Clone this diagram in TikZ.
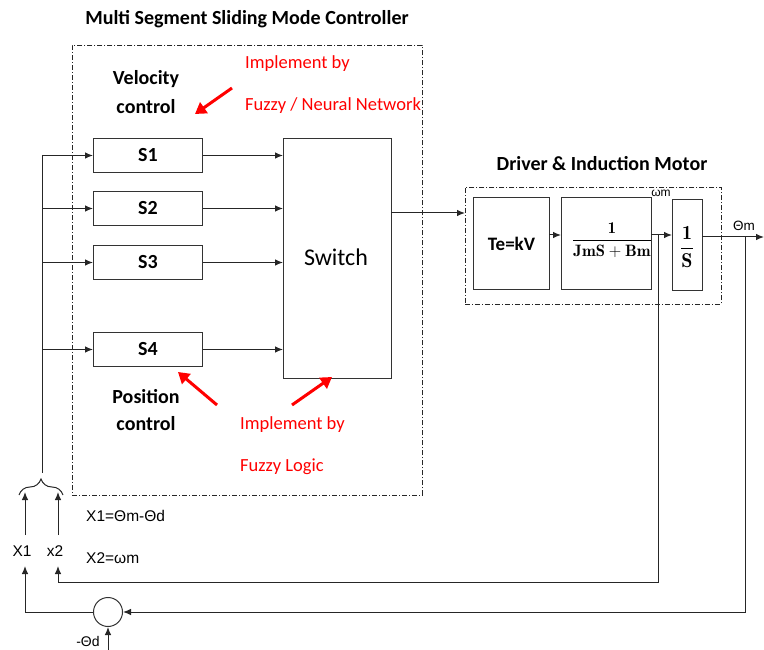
\documentclass[tikz,border=0pt]{standalone}
\usepackage{fontspec}
\newfontfamily\calf{Carlito}
\newfontfamily\lsans{Liberation Sans}
\usetikzlibrary{arrows.meta,decorations.pathreplacing}
\begin{document}
\begin{tikzpicture}[x=1pt,y=-1pt,
  ln/.style={draw=black!85,line width=1pt},
  arr/.style={ln,-{Latex[length=8pt,width=6.5pt]}},
  blk/.style={draw=black!80,line width=1pt,inner sep=0pt,anchor=north west},
  dd/.style={draw=black!85,line width=0.9pt,dash pattern=on 5pt off 2pt on 1pt off 2pt,inner sep=0pt,anchor=north west},
  redarr/.style={draw=red,line width=3pt,-{Triangle[length=11pt,width=13pt]}},
  redtxt/.style={text=red,font=\calf\fontsize{18.5}{20}\selectfont,anchor=west,inner sep=0pt},
  bold/.style={font=\calf\bfseries\fontsize{20}{22}\selectfont},
  sbox/.style={blk,minimum width=109pt,minimum height=34pt,font=\calf\bfseries\fontsize{20}{22}\selectfont},
  small/.style={font=\lsans\fontsize{15.5}{17}\selectfont,inner sep=0pt}]
\useasboundingbox (0,0) rectangle (764,650);

% containers
\node[dd,minimum width=350pt,minimum height=450pt] (ctrl) at (72,45) {};
\node[dd,minimum width=256pt,minimum height=117pt] (motor) at (465,187) {};

% titles
\node[bold] (t1) at (247,19) {Multi Segment Sliding Mode Controller};
\node[bold] (t2) at (602,164) {Driver \& Induction Motor};

% sliding surfaces
\node[sbox] (s1) at (93,138) {S1};
\node[sbox] (s2) at (93,191) {S2};
\node[sbox] (s3) at (93,245) {S3};
\node[sbox] (s4) at (93,332) {S4};
\node[blk,minimum width=108pt,minimum height=240pt] (sw) at (283,138) {};
\node[font=\calf\fontsize{24}{26}\selectfont] (swt) at (336,257) {Switch};

% labels in controller
\node[align=center,font=\calf\bfseries\fontsize{20}{29}\selectfont] (vel) at (146,92) {Velocity\\control};
\node[align=center,font=\calf\bfseries\fontsize{20}{27}\selectfont] (pos) at (146,410) {Position\\control};
\node[redtxt] (r1) at (245,64) {Implement by};
\node[redtxt] (r2) at (245,106) {Fuzzy / Neural Network};
\node[redtxt] (r3) at (240,425) {Implement by};
\node[redtxt] (r4) at (240,467) {Fuzzy Logic};
\coordinate (ra1s) at (232,88); \coordinate (ra1e) at (195,114);
\coordinate (ra2s) at (217,405); \coordinate (ra2e) at (178,372);
\coordinate (ra3s) at (292,405); \coordinate (ra3e) at (332,377);
\draw[redarr] (ra1s) -- (ra1e);
\draw[redarr] (ra2s) -- (ra2e);
\draw[redarr] (ra3s) -- (ra3e);

% bus
\coordinate (bt) at (42,155);
\coordinate (bb) at (42,473);
\draw[ln] (bt) -- (bb);
\foreach \s in {s1,s2,s3,s4} {
  \draw[arr] (bt |- \s.west) -- (\s.west);
  \draw[arr] (\s.east) -- (sw.west |- \s.east);
}

% motor blocks
\node[blk,minimum width=76pt,minimum height=92pt,font=\calf\bfseries\fontsize{19}{21}\selectfont] (te) at (473,197) {Te=kV};
\node[blk,minimum width=90pt,minimum height=92pt] (tf) at (561,197) {};
\node[font=\fontsize{16.5}{18}\selectfont] (tft) at (612,240) {$\displaystyle\frac{\mathbf{1}}{\mathbf{JmS+Bm}}$};
\node[blk,minimum width=30pt,minimum height=91pt] (in) at (672,199) {};
\node[font=\fontsize{20}{22}\selectfont] (int) at (687,247) {$\displaystyle\frac{\mathbf{1}}{\mathbf{S}}$};

\coordinate (swo) at (391,213);
\draw[arr] (swo) -- (motor.west |- swo);
\coordinate (l1) at (549,235);
\draw[arr] (l1) -- (tf.west |- l1);
\coordinate (l2) at (651,235);
\draw[arr] (l2) -- (in.west |- l2);
\node[small,font=\lsans\fontsize{12}{13}\selectfont] (wml) at (661,193) {ωm};
\coordinate (thout) at (702,237);
\coordinate (thend) at (764,237);
\draw[arr] (thout) -- (thend);
\node[small,font=\lsans\fontsize{13.5}{15}\selectfont] (thl) at (744,226) {Θm};

% feedback
\node[small] (x1) at (22,551) {X1};
\node[small] (x2) at (55,551) {x2};
\node[small,anchor=west] (e1) at (86,516) {X1=Θm-Θd};
\node[small,anchor=west] (e2) at (86,558) {X2=ωm};
\node[draw=black!80,line width=1pt,circle,minimum size=29pt,inner sep=0pt] (sum) at (108,612) {};
\node[small,font=\lsans\fontsize{14}{15}\selectfont] (thd) at (88,641) {-Θd};
\coordinate (thdin) at (108,650);
\coordinate (wmtap) at (658,235);
\coordinate (thtap) at (745,237);
\draw[arr] (wmtap) |- (58,582) -- (58,566);
\draw[arr] (thtap) |- (sum.east);
\draw[arr] (sum.west) -| (25,566);
\draw[arr] (thdin) -- (sum.south);
\draw[arr] (25,535) -- (25,492);
\draw[arr] (58,535) -- (58,492);
\draw[ln,decorate,decoration={brace,amplitude=16pt}] (19,495) -- (63,495);
\end{tikzpicture}
\end{document}
